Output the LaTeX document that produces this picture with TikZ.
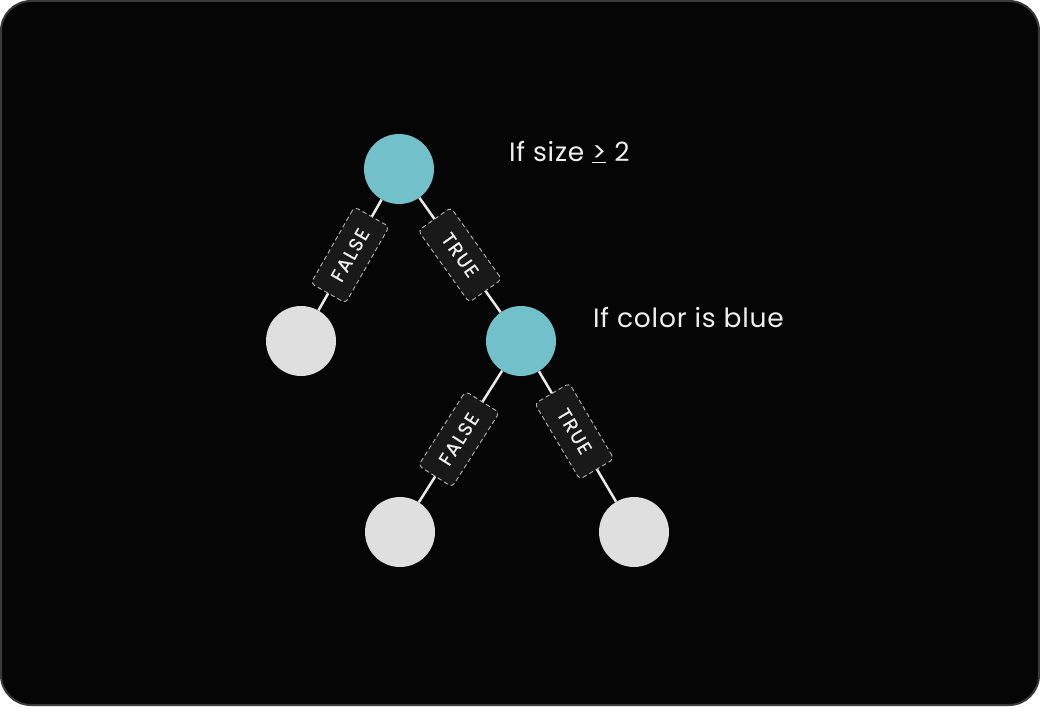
\documentclass[tikz,border=0pt]{standalone}
\usepackage{fontspec}
\setmainfont{Poppins}[LetterSpace=3]
\newfontfamily\boxfont{Poppins}[LetterSpace=8,FakeBold=0.6]
\definecolor{bgdark}{HTML}{050505}
\definecolor{framegray}{HTML}{3A3A3A}
\definecolor{tealnode}{HTML}{72C0C9}
\definecolor{leafgray}{HTML}{DFDFDF}
\definecolor{edgewhite}{HTML}{EAEAEA}
\definecolor{boxfill}{HTML}{191919}
\definecolor{boxdash}{HTML}{B5B5B5}
\definecolor{txt}{HTML}{EFEFEF}
\begin{document}
\begin{tikzpicture}[x=1pt,y=-1pt,
  decision/.style={circle,fill=tealnode,minimum size=70pt,inner sep=0pt},
  leaf/.style={circle,fill=leafgray,minimum size=70pt,inner sep=0pt},
  edge/.style={draw=edgewhite,line width=2.5pt},
  tag/.style={sloped,rectangle,rounded corners=4pt,fill=boxfill,draw=boxdash,
    dash pattern=on 4.5pt off 3pt,line width=0.9pt,minimum width=88pt,minimum height=40pt,
    inner sep=0pt,text=txt,font=\boxfont\fontsize{19}{19}\selectfont},
  cond/.style={anchor=base west,text=txt,inner sep=0pt,font=\fontsize{26.5}{26.5}\selectfont}]
\fill[white] (0,0) rectangle (1040,706);
\useasboundingbox (0,0) rectangle (1040,706);
\draw[fill=bgdark,draw=framegray,line width=2pt,rounded corners=30pt] (1,1) rectangle (1039,705);

\node[decision] (root) at (399,169) {};
\node[leaf] (l1) at (301,341) {};
\node[decision] (r1) at (521,341) {};
\node[leaf] (l2) at (400,532) {};
\node[leaf] (r2) at (634,532) {};

\path[edge] (root) -- (l1) node[tag,midway] {FALSE};
\path[edge] (root) -- (r1) node[tag,midway] {TRUE};
\path[edge] (r1) -- (l2) node[tag,pos=0.52] {FALSE};
\path[edge] (r1) -- (r2) node[tag,pos=0.46] {TRUE};

\node[cond] (c1) at (509,161) {If size \underline{>} 2};
\node[cond] (c2) at (593,327) {If color is blue};
\end{tikzpicture}
\end{document}
